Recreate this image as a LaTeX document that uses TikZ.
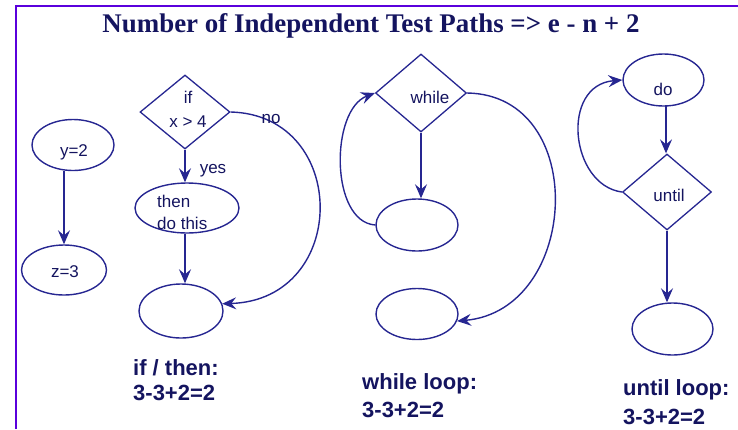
\documentclass[tikz,border=0pt]{standalone}
\usepackage{fontspec}
\setmainfont{Liberation Sans}
\newfontfamily\titlefont{Liberation Serif}
\usetikzlibrary{shapes.geometric,arrows.meta}
\definecolor{navy}{RGB}{38,38,145}
\definecolor{ink}{RGB}{20,20,95}
\definecolor{framec}{RGB}{90,0,220}
\begin{document}
\begin{tikzpicture}[x=1pt,y=-1pt,
  oval/.style={draw=navy, line width=1.4pt, ellipse, inner sep=0pt},
  dia/.style={draw=navy, line width=1.3pt, diamond, inner sep=0pt},
  arr/.style={draw=navy, line width=1.4pt, -{Stealth[length=14pt,width=12pt,inset=5pt]}},
  lbl/.style={text=ink, inner sep=0pt, font=\fontsize{17}{24}\selectfont},
  capt/.style={text=ink, inner sep=0pt, anchor=base west, font=\bfseries\fontsize{22}{25}\selectfont},
]
\useasboundingbox (0,0) rectangle (738,429);
% frame
\draw[framec, line width=2.5pt] (16,429) -- (16,6.2) -- (738,6.2);
% title
\node[text=ink, inner sep=0pt, anchor=base] (title) at (371,32)
  {\resizebox{537pt}{!}{\titlefont\bfseries Number of Independent Test Paths => e - n + 2}};

% sequence
\node[oval, minimum width=82pt, minimum height=51pt] (y2) at (73,145) {};
\node[oval, minimum width=85pt, minimum height=50pt] (z3) at (64,270) {};
\node[lbl] (ty2) at (74,152) {y=2};
\node[lbl] (tz3) at (65,272) {z=3};
\draw[arr] (z3.north |- y2.south) -- (z3.north);

% if / then
\node[dia, minimum width=90pt, minimum height=74pt] (ifd) at (185,112) {};
\node[lbl, align=center] (tif) at (188,109) {if\\x > 4};
\node[oval, minimum width=104pt, minimum height=50pt] (then) at (187,208) {};
\node[lbl, align=left, anchor=west, font=\fontsize{17}{22}\selectfont] (tthen) at (157,212) {then\\do this};
\node[oval, minimum width=84pt, minimum height=54pt] (botif) at (181,311) {};
\draw[arr] (ifd.south) -- (ifd.south |- then.north);
\node[lbl] (tyes) at (213,171) {yes};
\draw[arr] (ifd.south |- then.south) -- (ifd.south |- botif.north);
\draw[arr] (ifd.east) .. controls (350,115) and (350,300) .. (botif.10);
\node[lbl] (tno) at (271,119) {no};

% while
\node[dia, minimum width=91pt, minimum height=78pt] (whiled) at (421,93) {};
\node[lbl] (twhile) at (430,97) {while};
\node[oval, minimum width=82pt, minimum height=52pt] (body) at (417,225) {};
\node[oval, minimum width=82pt, minimum height=51pt] (exitw) at (417,314) {};
\draw[arr] (whiled.south) -- (whiled.south |- body.north);
\draw[arr] (body.west) .. controls (330,222) and (330,110) .. (whiled.west);
\draw[arr] (whiled.east) .. controls (590,95) and (580,310) .. (exitw.-10);

% until
\node[oval, minimum width=81pt, minimum height=52pt] (dood) at (663.5,80) {};
\node[lbl] (tdo) at (663,89) {do};
\node[dia, minimum width=89pt, minimum height=76pt] (untild) at (667,192) {};
\node[lbl] (tuntil) at (669,195) {until};
\node[oval, minimum width=81pt, minimum height=52pt] (botu) at (672.5,329) {};
\draw[arr] (666,106) -- (untild.north -| 666,0);
\draw[arr] (untild.south) -- (untild.south |- botu.north);
\draw[arr] (untild.west) .. controls (570,185) and (560,85) .. (dood.west);

% captions
\node[capt] (c1a) at (133,375) {if / then:};
\node[capt] (c1b) at (133,400) {3-3+2=2};
\node[capt] (c2a) at (362,389) {while loop:};
\node[capt] (c2b) at (362,417) {3-3+2=2};
\node[capt] (c3a) at (623,395) {until loop:};
\node[capt] (c3b) at (623,424) {3-3+2=2};
\end{tikzpicture}
\end{document}
